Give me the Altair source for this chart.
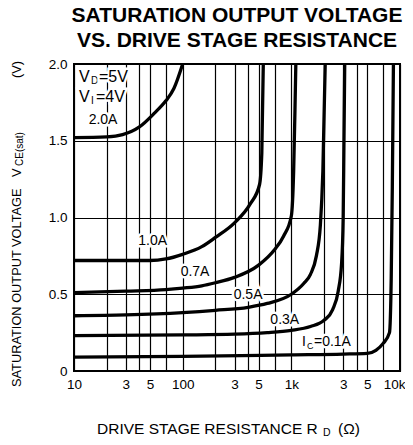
import altair as alt
import pandas as pd

FONT = "Liberation Sans"

# ---- curve data (R_D in ohm, V_CE(sat) in V) ----
ic_names = ["2.0A", "1.0A", "0.7A", "0.5A", "0.3A", "0.1A"]
r_2_0 = [10, 20, 28, 40, 55, 70, 83, 100]
v_2_0 = [1.52, 1.525, 1.54, 1.59, 1.68, 1.76, 1.84, 2.0]
r_1_0 = [10, 30, 50, 70, 100, 150, 200, 300, 420, 510, 535, 552]
v_1_0 = [0.72, 0.72, 0.72, 0.73, 0.76, 0.81, 0.87, 0.965, 1.09, 1.215, 1.42, 2.0]
r_0_7 = [10, 30, 70, 100, 150, 200, 300, 500, 700, 850, 1000, 1050, 1080, 1100]
v_0_7 = [0.51, 0.52, 0.53, 0.54, 0.555, 0.575, 0.61, 0.69, 0.79, 0.88, 1.01, 1.3, 1.7, 2.0]
r_0_5 = [10, 30, 100, 200, 400, 600, 1000, 1300, 1500, 1700, 1850, 1950, 2050]
v_0_5 = [0.36, 0.365, 0.38, 0.395, 0.415, 0.44, 0.50, 0.57, 0.63, 0.75, 0.95, 1.3, 2.0]
r_0_3 = [10, 100, 300, 600, 1000, 1500, 2000, 2400, 2700, 2900, 3000, 3050, 3100]
v_0_3 = [0.23, 0.235, 0.24, 0.25, 0.265, 0.29, 0.33, 0.40, 0.52, 0.70, 1.0, 1.5, 2.0]
r_0_1 = [10, 100, 1000, 3000, 5000, 6000, 7000, 8000, 8300, 8500, 8700]
v_0_1 = [0.09, 0.095, 0.105, 0.11, 0.115, 0.135, 0.18, 0.25, 0.6, 1.2, 2.0]

series_r = [r_2_0, r_1_0, r_0_7, r_0_5, r_0_3, r_0_1]
series_v = [v_2_0, v_1_0, v_0_7, v_0_5, v_0_3, v_0_1]

# ---- axis grid / tick labels ----
x_grid = [10, 20, 30, 40, 50, 70, 100, 200, 300, 400, 500, 700,
          1000, 2000, 3000, 4000, 5000, 7000, 10000]
x_label_vals = [10, 30, 50, 100, 300, 500, 1000, 3000, 5000, 10000]
x_label_text = ["10", "3", "5", "100", "3", "5", "1k", "3", "5", "10k"]
y_grid = [0, 0.25, 0.5, 0.75, 1.0, 1.25, 1.5, 1.75, 2.0]
y_label_vals = [0, 0.5, 1.0, 1.5, 2.0]
y_label_text = ["0", "0.5", "1.0", "1.5", "2.0"]

rows = []
for name, rs, vs in zip(ic_names, series_r, series_v):
    for r, v in zip(rs, vs):
        rows.append({"ic": name, "r": r, "v": v})
df = pd.DataFrame(rows)

x_expr = " : ".join(f"round(datum.value) == {v} ? '{t}'"
                    for v, t in zip(x_label_vals, x_label_text)) + " : ''"
y_expr = " : ".join(f"abs(datum.value - {v}) < 0.001 ? '{t}'"
                    for v, t in zip(y_label_vals, y_label_text)) + " : ''"

xscale = alt.Scale(type="log", domain=[10, 10000], nice=False)
yscale = alt.Scale(domain=[0, 2], nice=False, zero=False)

curves = alt.Chart(df).mark_line(
    color="black", strokeWidth=3.3, interpolate="monotone", clip=True
).encode(
    x=alt.X("r:Q", scale=xscale, axis=alt.Axis(
        values=x_grid, labelExpr=x_expr, title=None, ticks=False, domain=False,
        grid=True, gridColor="black", gridOpacity=1, gridWidth=1.2,
        labelFont=FONT, labelFontSize=13.5, labelColor="black", labelPadding=6,
        labelAlign={"condition": {"test": "datum.value >= 9999", "value": "right"},
                    "value": "center"},
        labelOffset={"condition": {"test": "datum.value >= 9999", "value": 5},
                     "value": 0},
        labelOverlap=False, labelFlush=False, labelBound=False)),
    y=alt.Y("v:Q", scale=yscale, axis=alt.Axis(
        values=y_grid, labelExpr=y_expr, title=None, ticks=False, domain=False,
        grid=True, gridColor="black", gridOpacity=1, gridWidth=1.2,
        labelFont=FONT, labelFontSize=13.5, labelColor="black", labelPadding=7,
        labelOverlap=False, labelFlush=False, labelBound=False)),
    detail="ic:N",
)

layers = [curves]


def data_text(text, r, v, size=14, dx=0, dy=0, align="left", halo=True):
    d = pd.DataFrame({"r": [r], "v": [v], "t": [text]})
    out = []
    if halo:
        out.append(alt.Chart(d).mark_text(
            font=FONT, fontSize=size, align=align, baseline="middle", dx=dx, dy=dy,
            stroke="white", strokeWidth=5, fill="white"
        ).encode(x="r:Q", y="v:Q", text="t:N"))
    out.append(alt.Chart(d).mark_text(
        font=FONT, fontSize=size, align=align, baseline="middle", dx=dx, dy=dy,
        color="black"
    ).encode(x="r:Q", y="v:Q", text="t:N"))
    return out


def px_text(text, px, py, size=13, angle=0, align="left", baseline="middle"):
    d = pd.DataFrame({"t": [text]})
    return alt.Chart(d).mark_text(
        font=FONT, fontSize=size, align=align, baseline=baseline, angle=angle,
        color="black"
    ).encode(x=alt.value(px), y=alt.value(py), text="t:N")


# curve labels
layers += data_text("2.0A", 18.5, 1.635, align="center")
layers += data_text("1.0A", 53, 0.847, align="center")
layers += data_text("0.7A", 130, 0.645, align="center")
layers += data_text("0.5A", 400, 0.497, align="center")
layers += data_text("0.3A", 870, 0.33, align="center")
layers += data_text("I", 1253, 0.19, 14, dx=0)
layers += data_text("C", 1253, 0.19, 9, dx=5, dy=4)
layers += data_text("=0.1A", 1253, 0.19, 14, dx=12)

# condition labels
layers += data_text("V", 11.1, 1.915, 16, dx=0)
layers += data_text("D", 11.1, 1.915, 10, dx=12, dy=4)
layers += data_text("=5V", 11.1, 1.915, 16, dx=20)
layers += data_text("V", 11.1, 1.785, 16, dx=0)
layers += data_text("I", 11.1, 1.785, 10, dx=12, dy=4)
layers += data_text("=4V", 11.1, 1.785, 16, dx=17)

# x axis title
layers.append(px_text("DRIVE STAGE RESISTANCE R", 23, 365, 15.5))
layers.append(px_text("D", 249, 369, 10.5))
layers.append(px_text("(Ω)", 264, 365, 15.5))

# y axis title (rotated)
layers.append(px_text("SATURATION OUTPUT VOLTAGE", -57, 323, 12.8, angle=270))
layers.append(px_text("V", -57, 113, 12.8, angle=270))
layers.append(px_text("CE(sat)", -54, 102, 10, angle=270))
layers.append(px_text("(V)", -57, 14, 12.8, angle=270))

chart = alt.layer(*layers).properties(
    width=326, height=307,
    autosize=alt.AutoSizeParams(type="none"),
    padding={"left": 66, "top": 56, "right": 5, "bottom": 66},
    title=alt.Title(
        text=["SATURATION OUTPUT VOLTAGE", "VS. DRIVE STAGE RESISTANCE"],
        font=FONT, fontSize=21, fontWeight="bold", color="black",
        anchor="middle", offset=6, lineHeight=25),
).configure_view(stroke="black", strokeWidth=2)

chart.save("out.html", embed_options={"renderer": "svg", "actions": False})
